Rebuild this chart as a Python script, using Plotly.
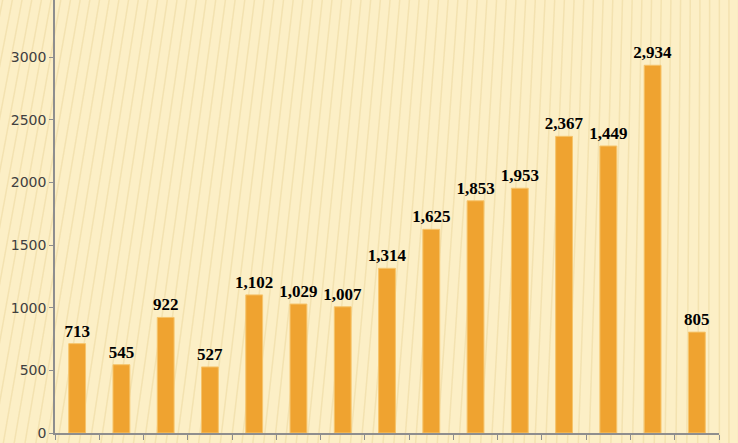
import plotly.graph_objects as go

categories = [str(i) for i in range(1, 16)]
values = [713, 545, 922, 527, 1102, 1029, 1007, 1314, 1625, 1853, 1953, 2367, 2290, 2934, 805]
labels = ["713", "545", "922", "527", "1,102", "1,029", "1,007", "1,314",
          "1,625", "1,853", "1,953", "2,367", "1,449", "2,934", "805"]

fig = go.Figure()
fig.add_trace(go.Bar(
    x=categories,
    y=values,
    text=labels,
    textposition="outside",
    constraintext="none",
    cliponaxis=False,
    textfont=dict(family="Liberation Serif", size=17, color="#000000"),
    texttemplate="<b>%{text}</b>",
    marker=dict(color="#EFA330", line=dict(color="#F6C46A", width=1)),
    width=0.38,
))

# faint slanted stripes in the background, like the slide texture
shapes = []
for k in range(-10, 75):
    x0 = k * 0.0145
    shapes.append(dict(
        type="line", xref="paper", yref="paper", layer="below",
        x0=x0 - 0.13 * max(0, 1 - x0), y0=-0.05,
        x1=x0, y1=1.05,
        line=dict(color="rgba(214,180,100,0.22)", width=1.5),
    ))

fig.update_layout(
    width=738,
    height=443,
    margin=dict(l=55, r=19, t=0, b=10),
    paper_bgcolor="#FCEFC6",
    plot_bgcolor="#FCEFC6",
    showlegend=False,
    bargap=0.62,
    shapes=shapes,
    font=dict(family="DejaVu Sans", size=14, color="#404040"),
)
fig.update_xaxes(
    showticklabels=False,
    showline=True, linecolor="#8E8E8E", linewidth=1.5,
    ticks="outside", ticklen=5, tickcolor="#8E8E8E",
    tickson="boundaries",
    showgrid=False,
)
fig.update_yaxes(
    range=[0, 3455],
    dtick=500,
    showline=True, linecolor="#8E8E8E", linewidth=1.5,
    ticks="outside", ticklen=4, tickcolor="#8E8E8E",
    showgrid=False, zeroline=False,
    tickfont=dict(family="DejaVu Sans", size=14, color="#404040"),
)

fig.write_html("out.html", config={"displayModeBar": False},
               post_script="document.body.style.margin='0';")
